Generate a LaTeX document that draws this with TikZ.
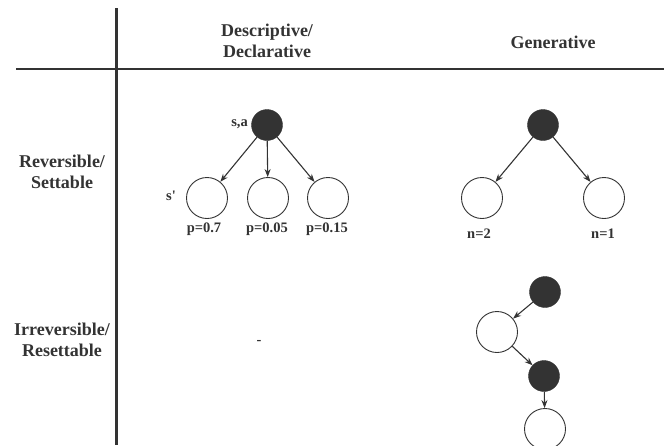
\documentclass[tikz,border=0pt]{standalone}
\usepackage{fontspec}
\setmainfont{Liberation Serif}
\usetikzlibrary{arrows.meta}
\definecolor{ink}{HTML}{333333}

\begin{document}
\begin{tikzpicture}[x=1pt, y=-1pt, ink,
    full/.style={circle, fill=ink, draw=ink, minimum size=31pt, inner sep=0pt},
    empty/.style={circle, draw=ink, fill=white, line width=0.9pt, minimum size=41pt, inner sep=0pt},
    edge/.style={draw=ink, line width=1.1pt, -{Stealth[length=8pt,width=6pt]}},
    head/.style={font=\bfseries\fontsize{18}{21}\selectfont, align=center},
    lab/.style={font=\bfseries\fontsize{14.5}{16}\selectfont, inner sep=0pt}]
    \useasboundingbox (0,0) rectangle (664,445);
    % Table lines
    \draw[line width=2.2pt] (116.5,8) -- (116.5,445);
    \draw[line width=2.2pt] (16,69) -- (664,69);

    % Row and column titles
    \node[head] (desc) at (267,41) {Descriptive/\\Declarative};
    \node[head] (gen) at (553,42) {Generative};
    \node[head] (rev) at (62,172) {Reversible/\\Settable};
    \node[head] (irr) at (62,340) {Irreversible/\\Resettable};

    % Descriptive, reversible
    \node[full] (sa) at (267,125) {};
    \node[empty] (s1) at (207,198) {};
    \node[empty] (s2) at (268,198) {};
    \node[empty] (s3) at (328,198) {};
    \draw[edge] (sa) -- (s1);
    \draw[edge] (sa) -- (s2);
    \draw[edge] (sa) -- (s3);
    \node[lab, anchor=east] (salab) at (248,124) {s,a};
    \node[lab, anchor=east] (slab) at (176,196) {s\textquotesingle};
    \node[lab] (p1) at (204,229) {p=0.7};
    \node[lab] (p2) at (267,229) {p=0.05};
    \node[lab] (p3) at (327,229) {p=0.15};

    % Generative, reversible
    \node[full] (g0) at (543,125) {};
    \node[empty] (g1) at (482,198) {};
    \node[empty] (g2) at (604,198) {};
    \draw[edge] (g0) -- (g1);
    \draw[edge] (g0) -- (g2);
    \node[lab] (n2) at (479,234) {n=2};
    \node[lab] (n1) at (603,234) {n=1};

    % Descriptive, irreversible
    \node[lab] (none) at (259,342) {-};

    % Generative, irreversible
    \node[full] (r0) at (545,292) {};
    \node[empty] (r1) at (497,332) {};
    \node[full] (r2) at (544,376) {};
    \node[empty] (r3) at (545,429) {};
    \draw[edge] (r0) -- (r1);
    \draw[edge] (r1) -- (r2);
    \draw[edge] (r2) -- (r3);
\end{tikzpicture}
\end{document}
